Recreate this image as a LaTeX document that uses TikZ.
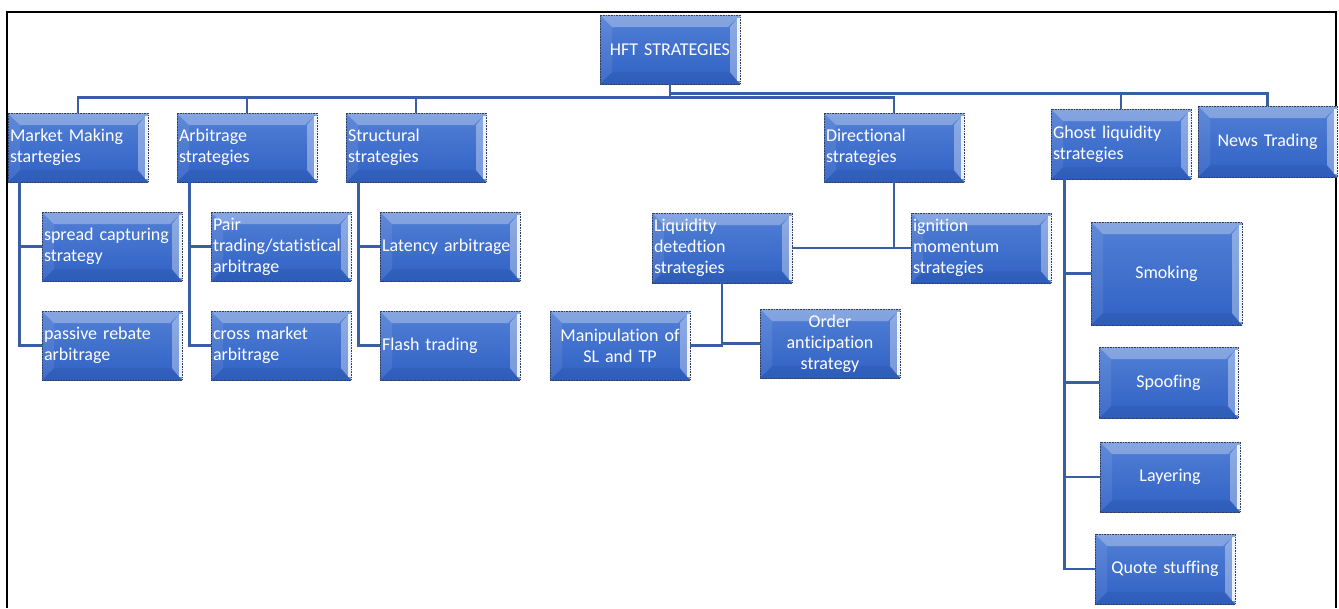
\documentclass[tikz,border=0pt]{standalone}
\usepackage{fontspec}
\newfontfamily\boxfont[Ligatures=NoCommon]{Carlito}
\definecolor{boxtop}{RGB}{82,128,214}
\definecolor{boxbot}{RGB}{48,97,196}
\definecolor{connblue}{RGB}{58,94,164}
\definecolor{boxedge}{RGB}{55,60,85}
\begin{document}
\begin{tikzpicture}[x=1pt,y=-1pt,
  bevel/.style={path picture={
    \coordinate (pnw) at (path picture bounding box.north west);
    \coordinate (pne) at (path picture bounding box.north east);
    \coordinate (psw) at (path picture bounding box.south west);
    \coordinate (pse) at (path picture bounding box.south east);
    % top bevel
    \fill[white,opacity=0.30] (pnw) -- (pne) -- ([xshift=-12pt,yshift=-12pt]pne)
      -- ([xshift=12pt,yshift=-12pt]pnw) -- cycle;
    % left bevel
    \fill[white,opacity=0.08] (pnw) -- ([xshift=12pt,yshift=-12pt]pnw)
      -- ([xshift=12pt,yshift=12pt]psw) -- (psw) -- cycle;
    % bottom bevel
    \fill[black,opacity=0.05] (psw) -- (pse) -- ([xshift=-12pt,yshift=12pt]pse)
      -- ([xshift=12pt,yshift=12pt]psw) -- cycle;
    % right bevel and highlight
    \fill[white,opacity=0.35] (pne) -- (pse) -- ([xshift=-10pt,yshift=12pt]pse)
      -- ([xshift=-10pt,yshift=-12pt]pne) -- cycle;
    \fill[white,opacity=0.85] ([xshift=-3pt,yshift=-3pt]pne) rectangle ([yshift=3pt]pse);
  }},
  boxbase/.style={rectangle, draw=boxedge, densely dotted, line width=0.6pt,
    top color=boxtop, bottom color=boxbot, bevel, text=white,
    font=\boxfont\fontsize{18}{21}\selectfont,
    inner xsep=2pt, inner ysep=0pt, text width=136pt, minimum height=69pt},
  lbox/.style={boxbase, align=left},
  cbox/.style={boxbase, align=center},
  conn/.style={draw=connblue, line width=2.6pt},
  frame/.style={draw=black, line width=2pt}
]
\useasboundingbox (0,0) rectangle (1339,608);
\draw[frame] (7,608) -- (7,12) -- (1336,12) -- (1336,608);

% top level
\node[cbox] (root) at (670,49.5) {HFT STRATEGIES};
\node[lbox] (mm) at (78,147.5) {Market Making\\startegies};
\node[lbox] (arb) at (247,147.5) {Arbitrage\\strategies};
\node[lbox] (str) at (416,147.5) {Structural\\strategies};
\node[lbox] (dir) at (894,147.5) {Directional\\strategies};
\node[lbox, minimum height=70pt] (ghost) at (1121,144) {Ghost liquidity\\strategies};
\node[cbox, text width=135pt, minimum height=71pt] (news) at (1267.5,141.5) {News Trading};

% second level
\node[lbox] (spread) at (112,246.5) {spread capturing\\strategy};
\node[lbox] (passive) at (112,345.5) {passive rebate\\arbitrage};
\node[lbox] (pair) at (281,246.5) {Pair\\trading/statistical\\arbitrage};
\node[lbox] (cross) at (281,345.5) {cross market\\arbitrage};
\node[lbox] (lat) at (450,246.5) {Latency arbitrage};
\node[lbox] (flash) at (450,345.5) {Flash trading};
\node[lbox, minimum height=70pt] (liq) at (722,248) {Liquidity\\detedtion\\strategies};
\node[lbox, minimum height=70pt] (ign) at (981,248) {ignition\\momentum\\strategies};
\node[cbox] (manip) at (620,345.5) {Manipulation of\\SL and TP};
\node[cbox] (order) at (830,343.5) {Order\\anticipation\\strategy};
\node[cbox, text width=147pt, minimum height=103pt] (smoking) at (1166.5,273.5) {Smoking};
\node[cbox, text width=135pt, minimum height=71pt] (spoofing) at (1168.5,382.5) {Spoofing};
\node[cbox, minimum height=70pt] (layering) at (1170,477) {Layering};
\node[cbox, minimum height=70pt] (quote) at (1165,569) {Quote stuffing};

% connectors from the root
\draw[conn] (root.south) -- ++(0,13) -| (mm.north);
\draw[conn] (root.south) -- ++(0,13) -| (arb.north);
\draw[conn] (root.south) -- ++(0,13) -| (str.north);
\draw[conn] (root.south) -- ++(0,13) -| (dir.north);
\draw[conn] (root.south) -- ++(0,9) -| (ghost.north);
\draw[conn] (root.south) -- ++(0,9) -| (news.north);

% side branches
\draw[conn] ([xshift=12pt]mm.south west) |- (spread.west);
\draw[conn] ([xshift=12pt]mm.south west) |- (passive.west);
\draw[conn] ([xshift=13pt]arb.south west) |- (pair.west);
\draw[conn] ([xshift=13pt]arb.south west) |- (cross.west);
\draw[conn] ([xshift=13pt]str.south west) |- (lat.west);
\draw[conn] ([xshift=13pt]str.south west) |- (flash.west);
\draw[conn] (dir.south) |- (liq.east);
\draw[conn] (dir.south) |- (ign.west);
\draw[conn] (liq.south) |- (manip.east);
\draw[conn] (liq.south) |- (order.west);
\draw[conn] ([xshift=14pt]ghost.south west) |- (smoking.west);
\draw[conn] ([xshift=14pt]ghost.south west) |- (spoofing.west);
\draw[conn] ([xshift=14pt]ghost.south west) |- (layering.west);
\draw[conn] ([xshift=14pt]ghost.south west) |- (quote.west);
\end{tikzpicture}
\end{document}
